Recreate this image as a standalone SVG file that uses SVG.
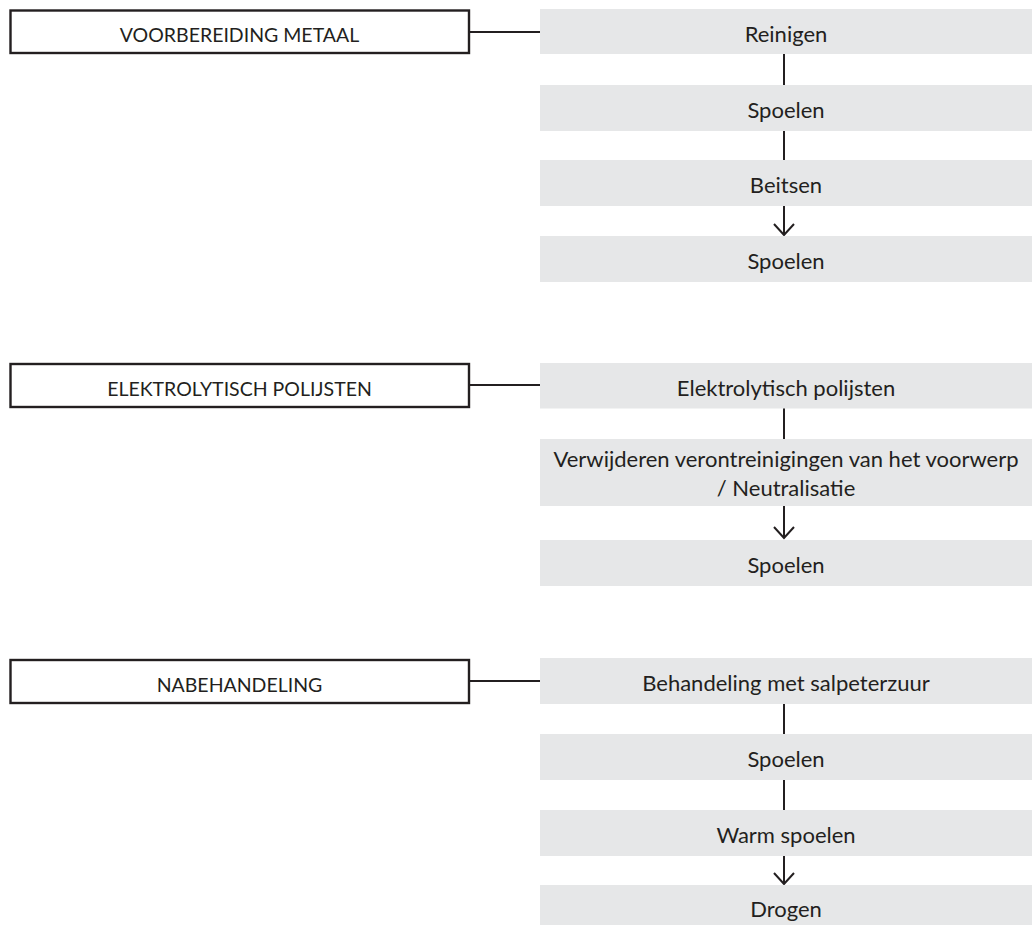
<svg xmlns="http://www.w3.org/2000/svg" width="1032" height="925" viewBox="0 0 1032 925">
<style>
.phase{fill:#fff;stroke:#231f20;stroke-width:2.4}
.step{fill:#e6e7e8}
text{font-family:Lato,"Liberation Sans",sans-serif;font-size:22px;fill:#231f20;text-anchor:middle}
.ph{font-size:19.5px}
.con{stroke:#231f20;stroke-width:2;fill:none}
</style>
<defs>
<marker id="ah" viewBox="0 0 14 24" refX="12" refY="12" markerWidth="14" markerHeight="24" markerUnits="userSpaceOnUse" orient="auto">
<path d="M1,2 L12,12 L1,22" fill="none" stroke="#231f20" stroke-width="2"/>
</marker>
</defs>
<rect width="1032" height="925" fill="#fff"/>
<g id="connectors">
<line class="con" x1="470" y1="32" x2="540" y2="32"/>
<line class="con" x1="784" y1="54" x2="784" y2="85"/>
<line class="con" x1="784" y1="131" x2="784" y2="160"/>
<path class="con" d="M784,206 V235" marker-end="url(#ah)"/>
<line class="con" x1="470" y1="385" x2="540" y2="385"/>
<line class="con" x1="784" y1="408" x2="784" y2="439"/>
<path class="con" d="M784,506 V538" marker-end="url(#ah)"/>
<line class="con" x1="470" y1="681" x2="540" y2="681"/>
<line class="con" x1="784" y1="704" x2="784" y2="734"/>
<line class="con" x1="784" y1="780" x2="784" y2="810"/>
<path class="con" d="M784,856 V884" marker-end="url(#ah)"/>
</g>
<g id="phase1"><rect class="phase" x="10.5" y="10.5" width="458.5" height="42.5"/><text class="ph" x="239.5" y="41.5">VOORBEREIDING METAAL</text></g>
<g id="s1a"><rect class="step" x="540" y="9" width="492" height="45"/><text x="786" y="42">Reinigen</text></g>
<g id="s1b"><rect class="step" x="540" y="85" width="492" height="46"/><text x="786" y="118">Spoelen</text></g>
<g id="s1c"><rect class="step" x="540" y="160" width="492" height="46"/><text x="786" y="193">Beitsen</text></g>
<g id="s1d"><rect class="step" x="540" y="236" width="492" height="46"/><text x="786" y="269">Spoelen</text></g>
<g id="phase2"><rect class="phase" x="10.5" y="364" width="458.5" height="43"/><text class="ph" x="239.5" y="395.5">ELEKTROLYTISCH POLIJSTEN</text></g>
<g id="s2a"><rect class="step" x="540" y="363" width="492" height="45.5"/><text x="786" y="396">Elektrolytisch polijsten</text></g>
<g id="s2b"><rect class="step" x="540" y="439" width="492" height="67"/><text x="786" y="467">Verwijderen verontreinigingen van het voorwerp</text><text x="786" y="496">/ Neutralisatie</text></g>
<g id="s2c"><rect class="step" x="540" y="540" width="492" height="46"/><text x="786" y="573">Spoelen</text></g>
<g id="phase3"><rect class="phase" x="10.5" y="660" width="458.5" height="43"/><text class="ph" x="239.5" y="691.5">NABEHANDELING</text></g>
<g id="s3a"><rect class="step" x="540" y="658" width="492" height="46"/><text x="786" y="691">Behandeling met salpeterzuur</text></g>
<g id="s3b"><rect class="step" x="540" y="734" width="492" height="46"/><text x="786" y="767">Spoelen</text></g>
<g id="s3c"><rect class="step" x="540" y="810" width="492" height="46"/><text x="786" y="843">Warm spoelen</text></g>
<g id="s3d"><rect class="step" x="540" y="885" width="492" height="40"/><text x="786" y="917">Drogen</text></g>
</svg>
